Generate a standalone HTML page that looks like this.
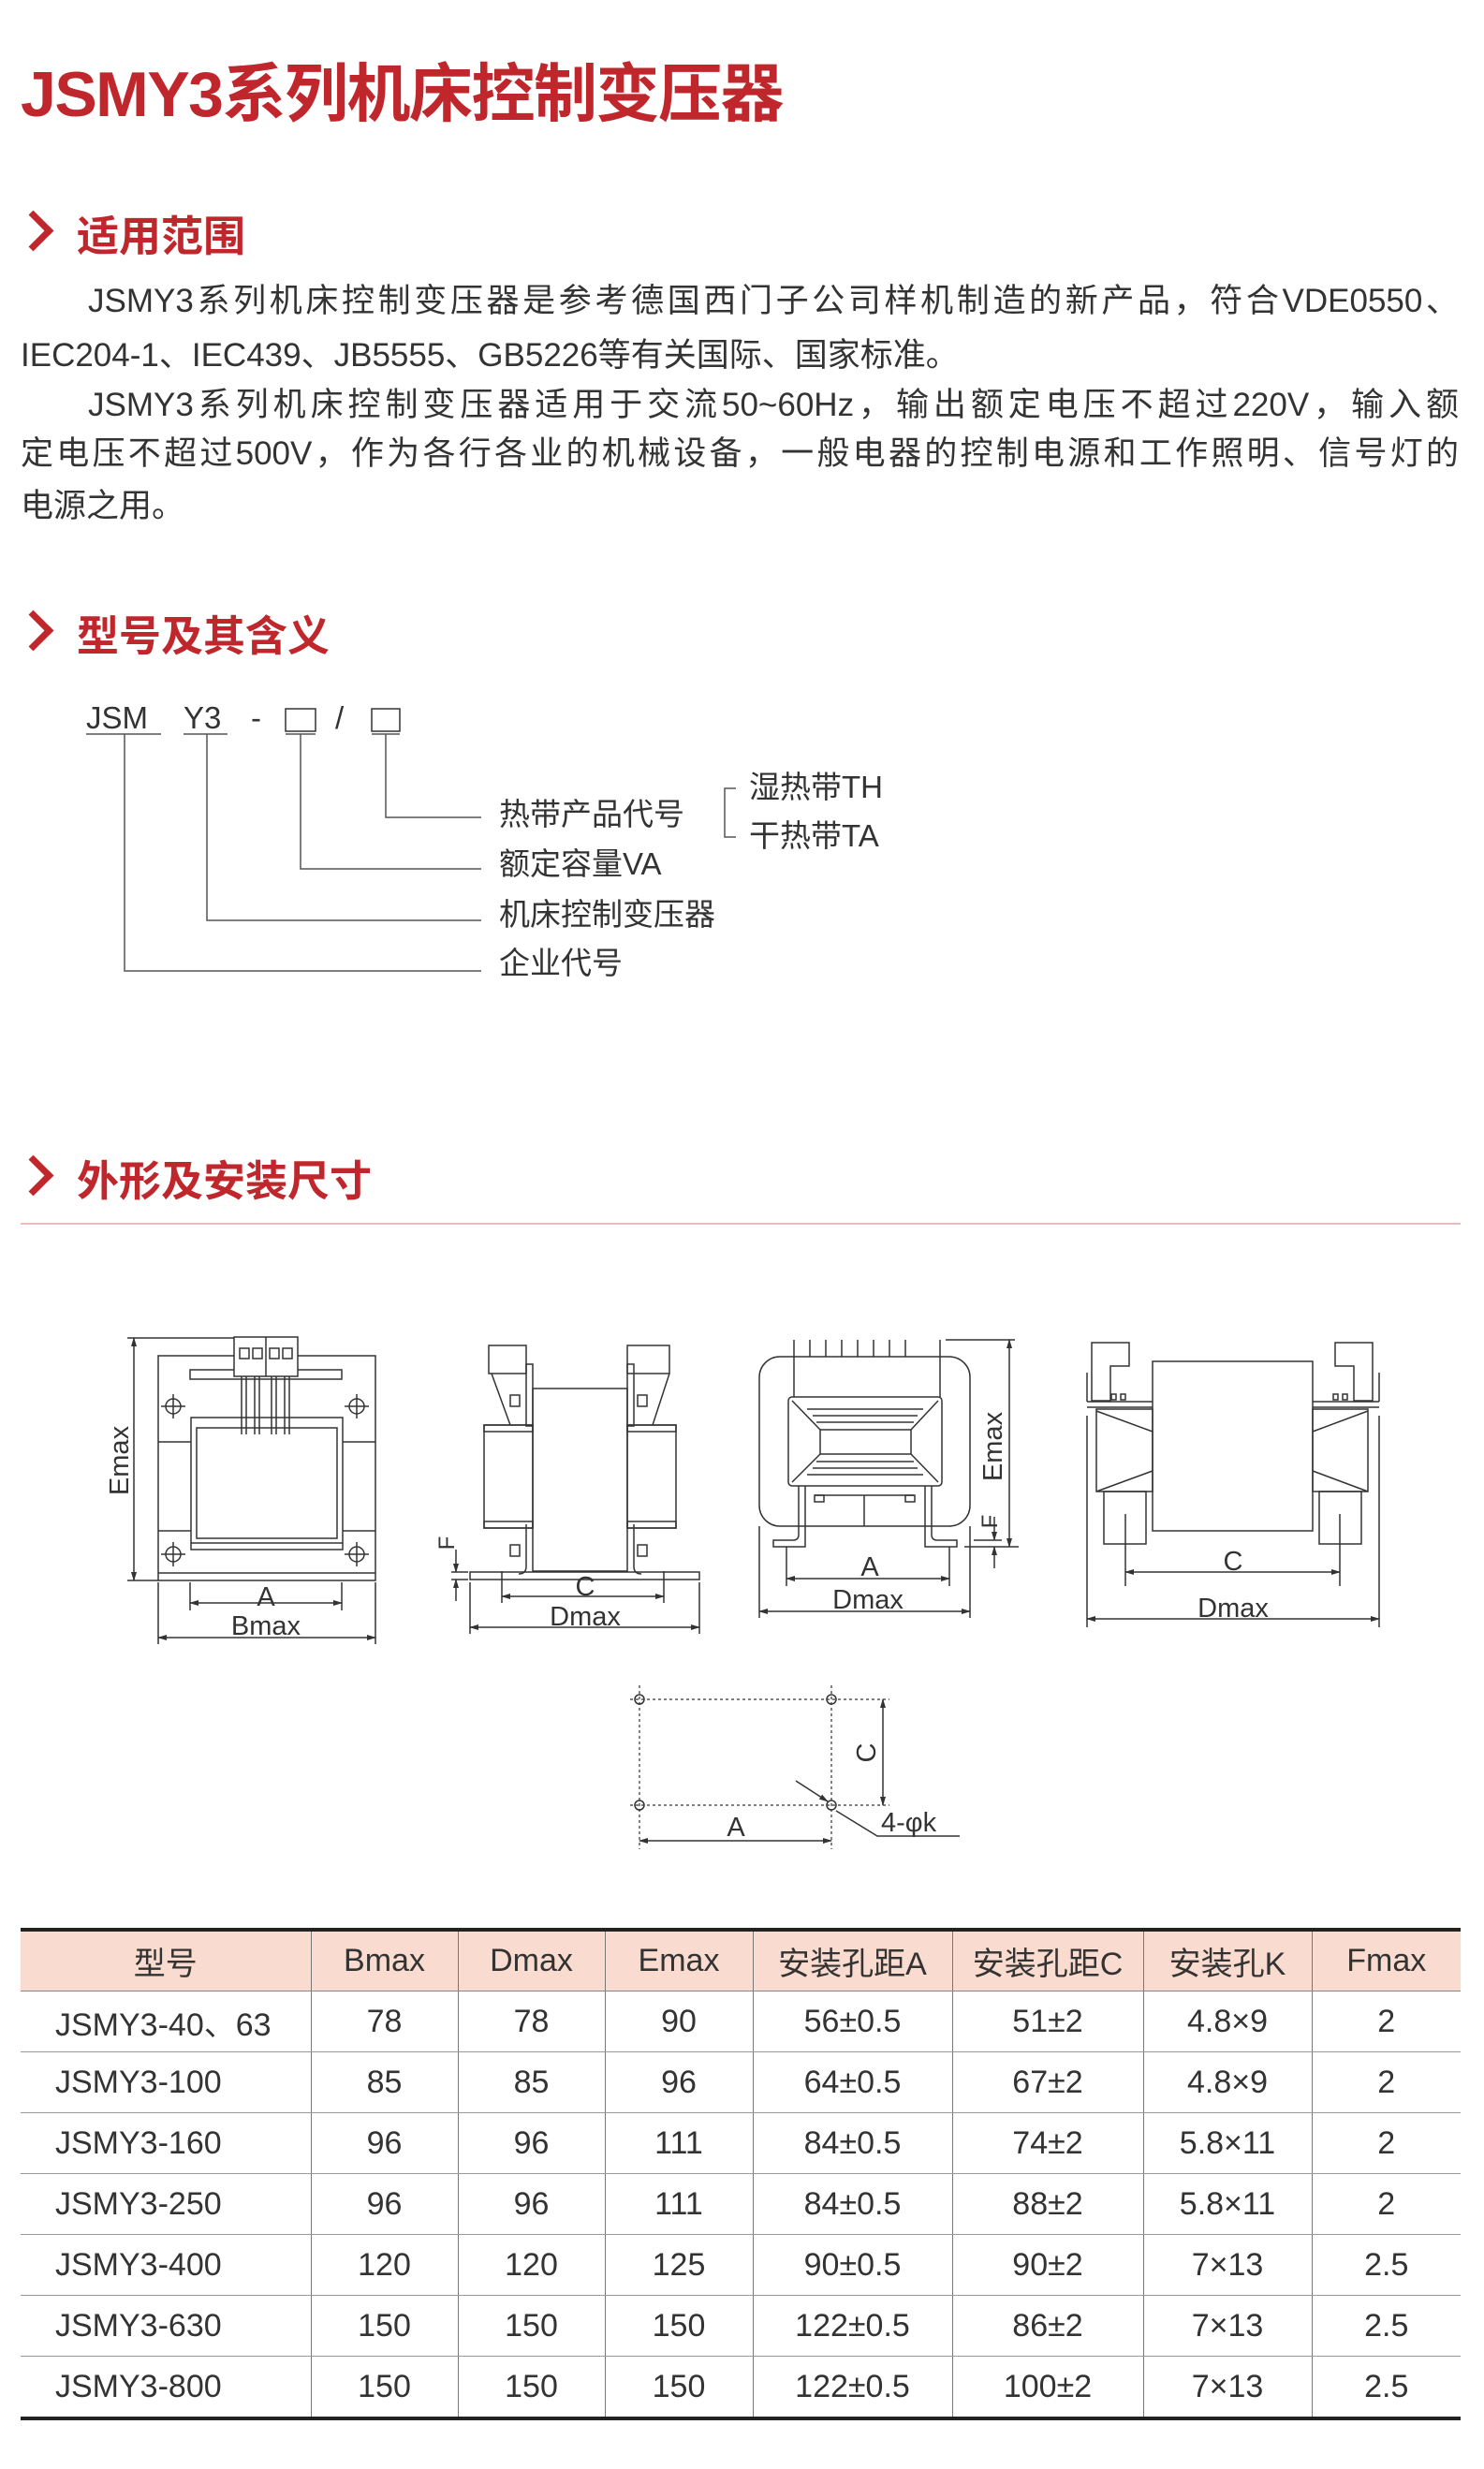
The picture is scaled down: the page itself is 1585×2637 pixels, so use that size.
<!DOCTYPE html>
<html><head><meta charset="utf-8">
<style>
html,body{margin:0;padding:0;background:#fff;}
body{width:1585px;height:2637px;position:relative;overflow:hidden;font-family:"Liberation Sans","Noto Sans CJK SC",sans-serif;color:#333;}
.abs{position:absolute;white-space:nowrap;}
.title{left:22px;top:45px;font-size:68px;font-weight:bold;color:#c0272d;letter-spacing:-1.5px;}
.sec{font-size:45px;font-weight:bold;color:#c0272d;left:82px;}
.chev{position:absolute;left:20px;width:24px;height:24px;border-right:7px solid #c0272d;border-top:7px solid #c0272d;transform:rotate(45deg);}
.p{font-size:35px;color:#333;line-height:40px;}
.j{text-align:justify;text-align-last:justify;}
table{position:absolute;left:22px;top:2059px;border-collapse:collapse;table-layout:fixed;width:1538px;font-size:34px;color:#333;border-top:4px solid #222;border-bottom:4px solid #222;}
td{border-left:1.5px solid #777;border-bottom:1.5px solid #999;text-align:center;height:64px;padding:0;}
td:first-child{border-left:none;text-align:left;padding-left:37px;}
tr.h td{background:#f9dccf;height:63px;border-bottom:1.5px solid #888;}
tr.h td:first-child{text-align:center;padding-left:0;}
tr:last-child td{border-bottom:none;}
.lab{font-size:33px;}
</style></head><body>
<div class="abs title">JSMY3系列机床控制变压器</div>

<div class="chev" style="top:231px;"></div>
<div class="abs sec" style="top:216px;">适用范围</div>
<div class="abs p j" style="left:94px;top:302px;width:1464px;">JSMY3系列机床控制变压器是参考德国西门子公司样机制造的新产品，符合VDE0550、</div>
<div class="abs p" style="left:22px;top:360px;">IEC204-1、IEC439、JB5555、GB5226等有关国际、国家标准。</div>
<div class="abs p j" style="left:94px;top:413px;width:1464px;">JSMY3系列机床控制变压器适用于交流50~60Hz，输出额定电压不超过220V，输入额</div>
<div class="abs p j" style="left:22px;top:465px;width:1536px;">定电压不超过500V，作为各行各业的机械设备，一般电器的控制电源和工作照明、信号灯的</div>
<div class="abs p" style="left:22px;top:521px;">电源之用。</div>

<div class="chev" style="top:658px;"></div>
<div class="abs sec" style="top:643px;">型号及其含义</div>

<div class="abs lab" style="left:92px;top:748px;">JSM</div>
<div class="abs lab" style="left:196px;top:748px;">Y3</div>
<div class="abs lab" style="left:268px;top:748px;">-</div>
<div class="abs lab" style="left:358px;top:748px;">/</div>
<div class="abs lab" style="left:533px;top:843px;">热带产品代号</div>
<div class="abs lab" style="left:533px;top:896px;">额定容量VA</div>
<div class="abs lab" style="left:533px;top:950px;">机床控制变压器</div>
<div class="abs lab" style="left:533px;top:1002px;">企业代号</div>
<div class="abs lab" style="left:800px;top:814px;">湿热带TH</div>
<div class="abs lab" style="left:800px;top:866px;">干热带TA</div>

<div class="chev" style="top:1240px;"></div>
<div class="abs sec" style="top:1225px;">外形及安装尺寸</div>
<div class="abs" style="left:22px;top:1306px;width:1538px;height:2px;background:#ebbcbc;"></div>

<svg class="abs" style="left:0;top:0" width="1585" height="2637" viewBox="0 0 1585 2637" font-family="Liberation Sans, sans-serif" fill="none" stroke="#333" stroke-width="1.5">
<defs><marker id="ar" markerWidth="10" markerHeight="8" refX="9" refY="4" orient="auto-start-reverse" markerUnits="userSpaceOnUse"><path d="M0,1 L10,4 L0,7 Z" fill="#333" stroke="none"/></marker></defs>
<rect x="305" y="757" width="32" height="24"/><rect x="397" y="757" width="30" height="24"/>
<g stroke="#555">
<line x1="92" y1="784" x2="172" y2="784"/><line x1="196" y1="784" x2="243" y2="784"/><line x1="305" y1="784" x2="337" y2="784"/><line x1="397" y1="784" x2="427" y2="784"/>
<polyline points="133,784 133,1037 514,1037"/><polyline points="221,784 221,983 514,983"/><polyline points="321,784 321,928 514,928"/><polyline points="412,784 412,873 514,873"/>
<polyline points="786,842 774,842 774,894 786,894"/>
</g>
<!-- D1 -->
<rect x="169" y="1448" width="232" height="240"/>
<line x1="169" y1="1540" x2="204" y2="1540"/><line x1="169" y1="1635" x2="204" y2="1635"/>
<line x1="366" y1="1540" x2="401" y2="1540"/><line x1="366" y1="1635" x2="401" y2="1635"/>
<rect x="204" y="1514" width="162" height="141" fill="#fff"/><rect x="210" y="1525" width="150" height="118"/>
<line x1="204" y1="1648" x2="366" y2="1648"/>
<rect x="203" y="1463" width="162" height="10" fill="#fff"/>
<rect x="250" y="1428" width="68" height="42" fill="#fff"/><line x1="284" y1="1428" x2="284" y2="1470"/>
<g><rect x="256" y="1440" width="10" height="11"/><rect x="270" y="1440" width="10" height="11"/><rect x="288" y="1440" width="10" height="11"/><rect x="302" y="1440" width="10" height="11"/></g>
<g><line x1="258" y1="1470" x2="258" y2="1532"/><line x1="263" y1="1470" x2="263" y2="1532"/><line x1="272" y1="1470" x2="272" y2="1532"/><line x1="277" y1="1470" x2="277" y2="1532"/><line x1="290" y1="1470" x2="290" y2="1532"/><line x1="295" y1="1470" x2="295" y2="1532"/><line x1="304" y1="1470" x2="304" y2="1532"/><line x1="309" y1="1470" x2="309" y2="1532"/></g>
<g><circle cx="185" cy="1502" r="8"/><circle cx="381" cy="1502" r="8"/><circle cx="185" cy="1660" r="8"/><circle cx="381" cy="1660" r="8"/>
<path d="M172 1502h26M185 1489v26M368 1502h26M381 1489v26M172 1660h26M185 1647v26M368 1660h26M381 1647v26"/></g>
<line x1="169" y1="1680" x2="401" y2="1680"/>
<line x1="143" y1="1429" x2="143" y2="1688" marker-start="url(#ar)" marker-end="url(#ar)"/>
<line x1="136" y1="1429" x2="250" y2="1429"/><line x1="136" y1="1688" x2="169" y2="1688"/>
<line x1="203" y1="1690" x2="203" y2="1720"/><line x1="365" y1="1690" x2="365" y2="1720"/>
<line x1="203" y1="1712" x2="365" y2="1712" marker-start="url(#ar)" marker-end="url(#ar)"/>
<line x1="169" y1="1690" x2="169" y2="1756"/><line x1="401" y1="1690" x2="401" y2="1756"/>
<line x1="169" y1="1749" x2="401" y2="1749" marker-start="url(#ar)" marker-end="url(#ar)"/>
<!-- D2 -->
<rect x="569" y="1483" width="101" height="195"/>
<rect x="517" y="1522" width="52" height="110"/><rect x="670" y="1522" width="52" height="110"/>
<rect x="517" y="1522" width="52" height="7"/><rect x="670" y="1522" width="52" height="7"/>
<rect x="517" y="1625" width="52" height="7"/><rect x="670" y="1625" width="52" height="7"/>
<rect x="562" y="1457" width="7" height="66"/><rect x="670" y="1457" width="7" height="66"/>
<path d="M562 1628v45q0 8 -8 8"/><path d="M677 1628v45q0 8 8 8"/>
<rect x="502" y="1679" width="245" height="8"/>
<path d="M522 1437h40v30h-40z M670 1437h45v30h-45z M525 1467l20 55 M715 1467l-18 55"/>
<path d="M545 1490h10v12h-10z M681 1490h10v12h-10z M545 1650h10v12h-10z M681 1650h10v12h-10z"/>
<line x1="536" y1="1678" x2="536" y2="1712"/><line x1="709" y1="1678" x2="709" y2="1712"/>
<line x1="536" y1="1705" x2="709" y2="1705" marker-start="url(#ar)" marker-end="url(#ar)"/>
<line x1="502" y1="1690" x2="502" y2="1745"/><line x1="747" y1="1690" x2="747" y2="1745"/>
<line x1="502" y1="1738" x2="747" y2="1738" marker-start="url(#ar)" marker-end="url(#ar)"/>
<line x1="487" y1="1655" x2="487" y2="1679" marker-end="url(#ar)"/><line x1="487" y1="1710" x2="487" y2="1687" marker-end="url(#ar)"/>
<line x1="482" y1="1679" x2="500" y2="1679"/><line x1="482" y1="1687" x2="500" y2="1687"/>
<!-- D3 -->
<rect x="811" y="1449" width="225" height="181" rx="22"/>
<g><line x1="848" y1="1431" x2="848" y2="1492"/><line x1="865" y1="1431" x2="865" y2="1449"/><line x1="882" y1="1431" x2="882" y2="1449"/><line x1="899" y1="1431" x2="899" y2="1449"/><line x1="916" y1="1431" x2="916" y2="1449"/><line x1="933" y1="1431" x2="933" y2="1449"/><line x1="950" y1="1431" x2="950" y2="1449"/><line x1="967" y1="1431" x2="967" y2="1449"/><line x1="1004" y1="1431" x2="1004" y2="1492"/></g>
<rect x="842" y="1492" width="164" height="95" rx="4" fill="#fff"/>
<rect x="876" y="1527" width="97" height="26"/>
<path d="M846 1496l30 31M1002 1496l-29 31M846 1583l30 -30M1002 1583l-29 -30"/>
<path d="M862 1505h124M868 1512h112M872 1519h104M862 1575h124M868 1568h112M872 1561h104"/>
<path d="M853 1587v52q0 6 -6 6h-21v7h34v-65 M995 1587v52q0 6 6 6h21v7h-34v-65"/>
<path d="M923 1597v33M870 1597h106"/>
<rect x="870" y="1597" width="10" height="7"/><rect x="967" y="1597" width="10" height="7"/>
<line x1="1010" y1="1431" x2="1084" y2="1431"/><line x1="1030" y1="1652" x2="1088" y2="1652"/>
<line x1="1078" y1="1431" x2="1078" y2="1652" marker-start="url(#ar)" marker-end="url(#ar)"/>
<line x1="1062" y1="1620" x2="1062" y2="1645" marker-end="url(#ar)"/><line x1="1062" y1="1675" x2="1062" y2="1652" marker-end="url(#ar)"/>
<line x1="1040" y1="1645" x2="1070" y2="1645"/>
<line x1="840" y1="1652" x2="840" y2="1694"/><line x1="1014" y1="1652" x2="1014" y2="1694"/>
<line x1="840" y1="1686" x2="1014" y2="1686" marker-start="url(#ar)" marker-end="url(#ar)"/>
<line x1="811" y1="1630" x2="811" y2="1728"/><line x1="1036" y1="1630" x2="1036" y2="1728"/>
<line x1="811" y1="1721" x2="1036" y2="1721" marker-start="url(#ar)" marker-end="url(#ar)"/>
<!-- D4 -->
<rect x="1231" y="1454" width="171" height="181"/>
<rect x="1171" y="1505" width="60" height="88"/><rect x="1402" y="1505" width="59" height="88"/>
<path d="M1161 1497h70M1161 1503h70M1402 1497h71M1402 1503h71M1161 1466v31M1473 1466v31"/>
<path d="M1171 1507l60 22M1171 1593l60 -22M1461 1507l-59 22M1461 1593l-59 -22"/>
<rect x="1179" y="1593" width="45" height="56"/><rect x="1409" y="1593" width="45" height="56"/>
<path d="M1166 1434h40v25h-20v37h-20z M1466 1434h-40v25h20v37h20z"/>
<rect x="1187" y="1489" width="5" height="6"/><rect x="1197" y="1489" width="5" height="6"/><rect x="1424" y="1489" width="5" height="6"/><rect x="1434" y="1489" width="5" height="6"/>
<line x1="1202" y1="1617" x2="1202" y2="1694"/><line x1="1431" y1="1617" x2="1431" y2="1694"/>
<line x1="1202" y1="1679" x2="1431" y2="1679" marker-start="url(#ar)" marker-end="url(#ar)"/>
<line x1="1161" y1="1512" x2="1161" y2="1738"/><line x1="1473" y1="1512" x2="1473" y2="1738"/>
<line x1="1161" y1="1729" x2="1473" y2="1729" marker-start="url(#ar)" marker-end="url(#ar)"/>
<!-- bottom hole pattern -->
<g stroke-dasharray="3,3" stroke-width="1.2">
<line x1="673" y1="1815" x2="950" y2="1815"/><line x1="673" y1="1928" x2="950" y2="1928"/>
<line x1="683" y1="1800" x2="683" y2="1975"/><line x1="888" y1="1800" x2="888" y2="1975"/>
</g>
<circle cx="683" cy="1815" r="5"/><circle cx="888" cy="1815" r="5"/><circle cx="683" cy="1928" r="5"/><circle cx="888" cy="1928" r="5"/>
<line x1="943" y1="1815" x2="943" y2="1928" marker-start="url(#ar)" marker-end="url(#ar)"/>
<line x1="683" y1="1966" x2="888" y2="1966" marker-start="url(#ar)" marker-end="url(#ar)"/>
<line x1="850" y1="1902" x2="884" y2="1924" marker-end="url(#ar)"/>
<polyline points="893,1934 937,1961 1025,1961"/>
<g fill="#333" stroke="none" font-size="29">
<text x="284" y="1715" text-anchor="middle">A</text>
<text x="284" y="1746" text-anchor="middle">Bmax</text>
<text transform="translate(137,1560) rotate(-90)" text-anchor="middle">Emax</text>
<text x="625" y="1704" text-anchor="middle">C</text>
<text x="625" y="1736" text-anchor="middle">Dmax</text>
<text transform="translate(485,1648) rotate(-90)" text-anchor="middle" font-size="24">F</text>
<text transform="translate(1070,1545) rotate(-90)" text-anchor="middle">Emax</text>
<text transform="translate(1065,1625) rotate(-90)" text-anchor="middle" font-size="24">F</text>
<text x="929" y="1683" text-anchor="middle">A</text>
<text x="927" y="1718" text-anchor="middle">Dmax</text>
<text x="1317" y="1677" text-anchor="middle">C</text>
<text x="1317" y="1727" text-anchor="middle">Dmax</text>
<text transform="translate(935,1872) rotate(-90)" text-anchor="middle">C</text>
<text x="786" y="1961" text-anchor="middle">A</text>
<text x="941" y="1956">4-φk</text>
</g>
</svg>

<table>
<colgroup><col style="width:310px"><col style="width:157px"><col style="width:157px"><col style="width:158px"><col style="width:213px"><col style="width:204px"><col style="width:180px"><col style="width:159px"></colgroup>
<tr class="h"><td>型号</td><td>Bmax</td><td>Dmax</td><td>Emax</td><td>安装孔距A</td><td>安装孔距C</td><td>安装孔K</td><td>Fmax</td></tr>
<tr><td>JSMY3-40、63</td><td>78</td><td>78</td><td>90</td><td>56±0.5</td><td>51±2</td><td>4.8×9</td><td>2</td></tr>
<tr><td>JSMY3-100</td><td>85</td><td>85</td><td>96</td><td>64±0.5</td><td>67±2</td><td>4.8×9</td><td>2</td></tr>
<tr><td>JSMY3-160</td><td>96</td><td>96</td><td>111</td><td>84±0.5</td><td>74±2</td><td>5.8×11</td><td>2</td></tr>
<tr><td>JSMY3-250</td><td>96</td><td>96</td><td>111</td><td>84±0.5</td><td>88±2</td><td>5.8×11</td><td>2</td></tr>
<tr><td>JSMY3-400</td><td>120</td><td>120</td><td>125</td><td>90±0.5</td><td>90±2</td><td>7×13</td><td>2.5</td></tr>
<tr><td>JSMY3-630</td><td>150</td><td>150</td><td>150</td><td>122±0.5</td><td>86±2</td><td>7×13</td><td>2.5</td></tr>
<tr><td>JSMY3-800</td><td>150</td><td>150</td><td>150</td><td>122±0.5</td><td>100±2</td><td>7×13</td><td>2.5</td></tr>
</table>
</body></html>
